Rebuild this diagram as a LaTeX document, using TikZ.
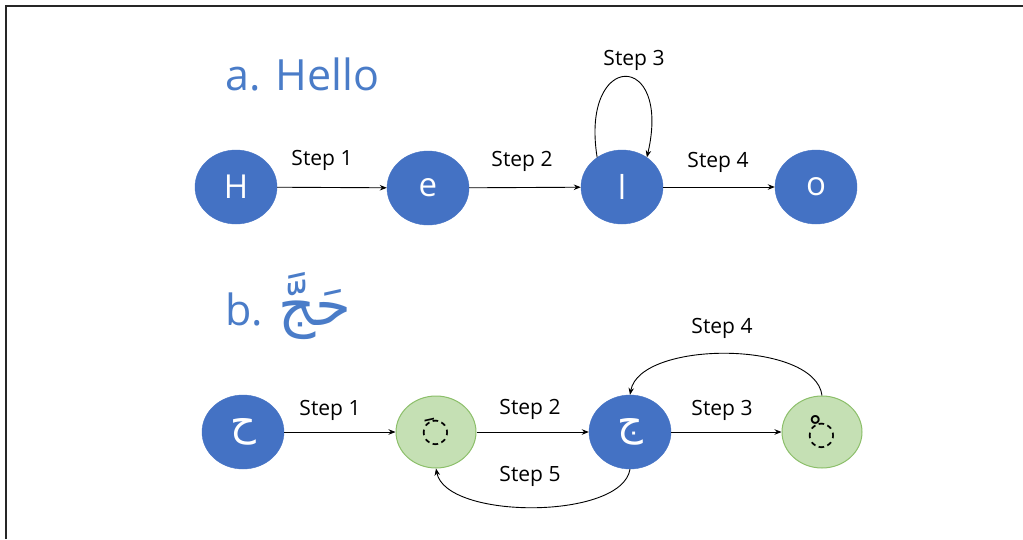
\documentclass[tikz,border=0pt]{standalone}
\usepackage{fontspec}
\setmainfont{Open Sans}
\newfontfamily\arabicfont[Script=Arabic]{DejaVu Sans}
\TeXXeTstate=1
\usetikzlibrary{arrows.meta,shapes.geometric}
\definecolor{nodeblue}{HTML}{4472C4}
\definecolor{titleblue}{HTML}{4A7CC8}
\definecolor{greenfill}{HTML}{C5E0B4}
\definecolor{greenline}{HTML}{8CBF6A}
\tikzset{
  bluestate/.style={ellipse, fill=nodeblue, draw=nodeblue, minimum width=82pt, minimum height=74pt, inner sep=0pt, text=white, font=\fontsize{33}{36}\selectfont},
  arabicstate/.style={bluestate, font=\arabicfont\fontsize{40}{44}\selectfont},
  greenstate/.style={ellipse, fill=greenfill, draw=greenline, line width=1pt, minimum width=80pt, minimum height=72pt, inner sep=0pt, text=black, font=\arabicfont\fontsize{33}{36}\selectfont},
  steplabel/.style={font=\fontsize{21}{24}\selectfont, text=black},
  titletext/.style={anchor=base west, text=titleblue, font=\fontsize{43}{48}\selectfont},
  conn/.style={line width=0.9pt, -{Stealth[length=7pt,width=5.5pt]}},
  framestroke/.style={line width=2pt, draw=black!85}
}
\begin{document}
\begin{tikzpicture}[x=1pt,y=-1pt]
\useasboundingbox (0,0) rectangle (1023,539);
\fill[white] (0,0) rectangle (1023,539);
\coordinate (fa) at (6,539);
\coordinate (fb) at (6,6);
\coordinate (fc) at (1023,6);
\draw[framestroke] (fa) -- (fb) -- (fc);

% titles
\node[titletext] (ta) at (222,90) {a. Hello};
\node[titletext] (tb) at (222,325) {b. {\arabicfont\fontsize{58}{62}\selectfont\beginR حَجَّ\endR}};

% row 1
\node[bluestate] (H) at (236,187) {H};
\node[bluestate] (e) at (428,188) {e};
\node[bluestate] (l) at (622,187) {l};
\node[bluestate] (o) at (816,187) {o};

\draw[conn] (H) -- (e);
\draw[conn] (e) -- (l);
\draw[conn] (l) -- (o);
\draw[conn] (l.130) .. controls (580,50) and (672,50) .. (l.50);

\node[steplabel] (s1) at (322,160) {Step 1};
\node[steplabel] (s2) at (522,161) {Step 2};
\node[steplabel] (s3) at (634,60) {Step 3};
\node[steplabel] (s4) at (718,162) {Step 4};

% row 2
\node[arabicstate] (ha) at (243,432) {\beginR ح\endR};
\node[greenstate] (fatha) at (436,432) {\beginR ◌َ\endR};
\node[arabicstate] (jim) at (630,432) {\beginR ج\endR};
\node[greenstate] (sukun) at (822,432) {\beginR ◌ْ\endR};

\draw[conn] (ha) -- (fatha);
\draw[conn] (fatha) -- (jim);
\draw[conn] (jim) -- (sukun);
\draw[conn] (sukun.north) .. controls (815,340) and (640,340) .. (jim.north);
\draw[conn] (jim.south) .. controls (622,520) and (446,520) .. (fatha.south);

\node[steplabel] (r1) at (330,410) {Step 1};
\node[steplabel] (r2) at (530,409) {Step 2};
\node[steplabel] (r3) at (722,410) {Step 3};
\node[steplabel] (r4) at (722,328) {Step 4};
\node[steplabel] (r5) at (530,476) {Step 5};
\end{tikzpicture}
\end{document}
